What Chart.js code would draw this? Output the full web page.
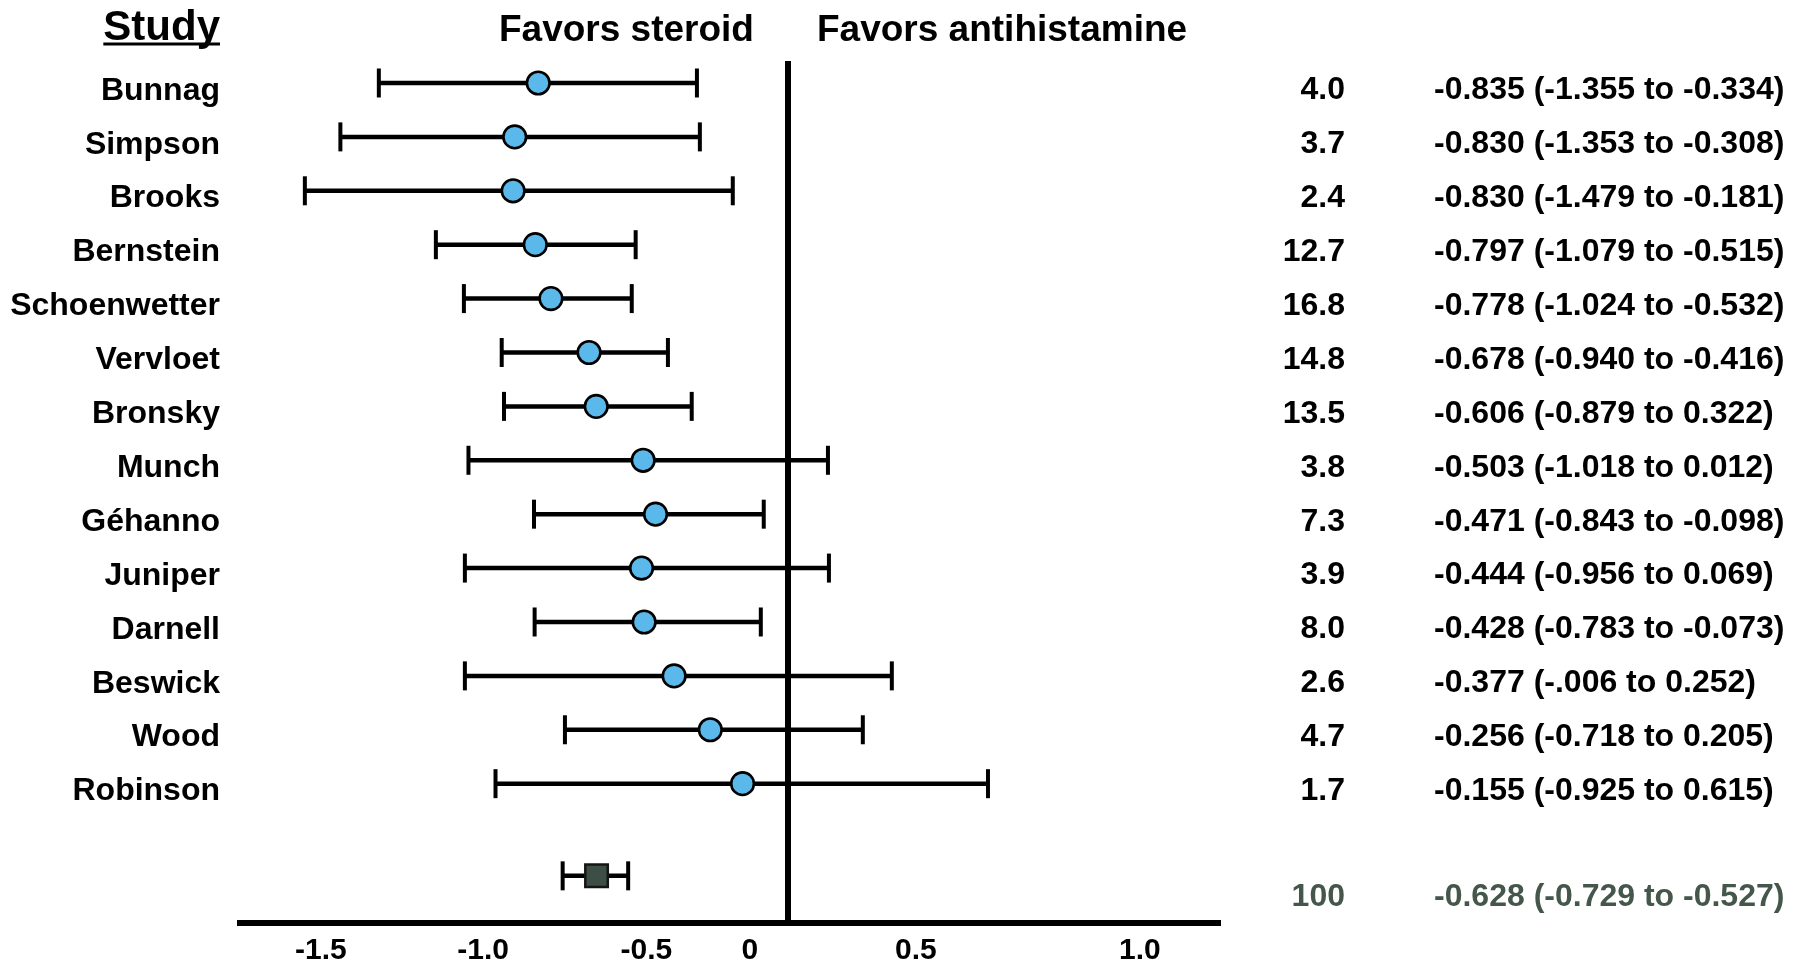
<!DOCTYPE html>
<html>
<head>
<meta charset="utf-8">
<script src="https://cdn.jsdelivr.net/npm/chart.js@4.4.1/dist/chart.umd.min.js"></script>
<style>
  html, body { margin: 0; padding: 0; background: #ffffff; }
  #wrap { width: 1804px; height: 965px; }
</style>
</head>
<body>
<div id="wrap"><canvas id="c" width="1804" height="965"></canvas></div>
<script>
// ---- data ----
const studies = ['Bunnag','Simpson','Brooks','Bernstein','Schoenwetter','Vervloet','Bronsky','Munch','Géhanno','Juniper','Darnell','Beswick','Wood','Robinson'];
const effect = [-0.766,-0.838,-0.843,-0.775,-0.727,-0.610,-0.588,-0.444,-0.406,-0.449,-0.441,-0.349,-0.238,-0.139];
const lower  = [-1.255,-1.373,-1.482,-1.080,-0.994,-0.878,-0.871,-0.980,-0.779,-0.991,-0.777,-0.991,-0.684,-0.897];
const upper  = [-0.279,-0.270,-0.169,-0.467,-0.479,-0.368,-0.295,0.123,-0.074,0.126,-0.083,0.319,0.230,0.614];
const weights = ['4.0','3.7','2.4','12.7','16.8','14.8','13.5','3.8','7.3','3.9','8.0','2.6','4.7','1.7'];
const ciTexts = [
  '-0.835 (-1.355 to -0.334)',
  '-0.830 (-1.353 to -0.308)',
  '-0.830 (-1.479 to -0.181)',
  '-0.797 (-1.079 to -0.515)',
  '-0.778 (-1.024 to -0.532)',
  '-0.678 (-0.940 to -0.416)',
  '-0.606 (-0.879 to 0.322)',
  '-0.503 (-1.018 to 0.012)',
  '-0.471 (-0.843 to -0.098)',
  '-0.444 (-0.956 to 0.069)',
  '-0.428 (-0.783 to -0.073)',
  '-0.377 (-.006 to 0.252)',
  '-0.256 (-0.718 to 0.205)',
  '-0.155 (-0.925 to 0.615)'
];
const summaryEffect = -0.587;
const summaryLower = -0.691;
const summaryUpper = -0.490;
const summaryWeight = '100';
const summaryText = '-0.628 (-0.729 to -0.527)';
const summaryRow = 14.71;
const xTickValues = [-1.433, -0.935, -0.434, -0.117, 0.393, 1.080];
const xTickLabels = ['-1.5', '-1.0', '-0.5', '0', '0.5', '1.0'];
const nullValue = 0;
const headerStudy = 'Study';
const headerLeft = 'Favors steroid';
const headerRight = 'Favors antihistamine';

// ---- styling ----
const FONT = '"Liberation Sans", Arial, Helvetica, sans-serif';
const BLACK = '#000000';
const BLUE = '#5ab8ea';
const SUMMARY = '#44574a';

const rows = studies.map((_, i) => i);

const lineDatasets = rows.map(i => ({
  type: 'scatter',
  data: [{x: lower[i], y: i}, {x: upper[i], y: i}],
  showLine: true,
  borderColor: BLACK,
  borderWidth: 4.5,
  pointRadius: 0,
  order: 3
}));
lineDatasets.push({
  type: 'scatter',
  data: [{x: summaryLower, y: summaryRow}, {x: summaryUpper, y: summaryRow}],
  showLine: true,
  borderColor: BLACK,
  borderWidth: 4.5,
  pointRadius: 0,
  order: 3
});

const capPoints = [];
rows.forEach(i => { capPoints.push({x: lower[i], y: i}); capPoints.push({x: upper[i], y: i}); });
capPoints.push({x: summaryLower, y: summaryRow});
capPoints.push({x: summaryUpper, y: summaryRow});

const datasets = [
  {
    type: 'scatter',
    data: rows.map(i => ({x: effect[i], y: i})),
    pointStyle: 'circle',
    pointRadius: 11.3,
    pointBackgroundColor: BLUE,
    pointBorderColor: BLACK,
    pointBorderWidth: 2.6,
    order: 0
  },
  {
    type: 'scatter',
    data: [{x: summaryEffect, y: summaryRow}],
    pointStyle: 'rect',
    pointRadius: 15.9,
    pointBackgroundColor: '#3d4f45',
    pointBorderColor: '#151515',
    pointBorderWidth: 2.5,
    order: 0
  },
  {
    type: 'scatter',
    data: capPoints,
    pointStyle: 'line',
    pointRotation: 90,
    pointRadius: 14.5,
    pointBorderColor: BLACK,
    pointBorderWidth: 4,
    order: 1
  },
  ...lineDatasets
];

const textPlugin = {
  id: 'forestText',
  afterDraw(chart) {
    const ctx = chart.ctx;
    const ys = chart.scales.y;
    ctx.save();
    ctx.textBaseline = 'middle';
    // headers
    ctx.fillStyle = BLACK;
    ctx.font = 'bold 42px ' + FONT;
    ctx.textAlign = 'right';
    ctx.fillText(headerStudy, 220, 28.5);
    const w = ctx.measureText(headerStudy).width;
    ctx.fillRect(220 - w, 42.5, w, 3);
    ctx.font = 'bold 37px ' + FONT;
    ctx.textAlign = 'left';
    ctx.fillText(headerLeft, 499, 31);
    ctx.fillText(headerRight, 817, 31);
    // right columns
    ctx.font = 'bold 32px ' + FONT;
    rows.forEach(i => {
      const y = ys.getPixelForValue(i) + 7.5;
      ctx.textAlign = 'right';
      ctx.fillText(weights[i], 1345, y);
      ctx.textAlign = 'left';
      ctx.fillText(ciTexts[i], 1434, y);
    });
    ctx.fillStyle = SUMMARY;
    const ys2 = ys.getPixelForValue(summaryRow) + 21;
    ctx.textAlign = 'right';
    ctx.fillText(summaryWeight, 1345, ys2);
    ctx.textAlign = 'left';
    ctx.fillText(summaryText, 1434, ys2);
    ctx.restore();
  }
};

const allXTicks = xTickValues.concat([nullValue]);

new Chart(document.getElementById('c'), {
  data: { datasets },
  options: {
    responsive: false,
    animation: false,
    devicePixelRatio: 1,
    layout: { padding: { left: 0, right: 583, top: 61, bottom: 0 } },
    plugins: { legend: { display: false }, tooltip: { enabled: false } },
    scales: {
      x: {
        type: 'linear',
        position: 'bottom',
        min: -1.681,
        max: 1.329,
        afterBuildTicks(scale) { scale.ticks = allXTicks.map(v => ({ value: v })); },
        afterFit(scale) { scale.height = 42; },
        ticks: {
          autoSkip: false,
          maxRotation: 0,
          padding: 10,
          color: BLACK,
          font: { family: FONT, size: 30, weight: 'bold' },
          callback: (v, idx) => (idx < xTickLabels.length ? xTickLabels[idx] : '')
        },
        grid: {
          display: true,
          drawOnChartArea: true,
          drawTicks: false,
          color: (c) => (c.tick && c.tick.value === nullValue ? BLACK : 'rgba(0,0,0,0)'),
          lineWidth: (c) => (c.tick && c.tick.value === nullValue ? 6 : 0)
        },
        border: { display: true, color: BLACK, width: 6 }
      },
      y: {
        type: 'linear',
        position: 'left',
        reverse: true,
        min: -0.408,
        max: 15.585,
        afterBuildTicks(scale) { scale.ticks = rows.map(i => ({ value: i })); },
        afterFit(scale) { scale.width = 240; },
        ticks: {
          autoSkip: false,
          padding: 20,
          labelOffset: 7.8,
          color: BLACK,
          font: { family: FONT, size: 32, weight: 'bold' },
          callback: (v) => studies[v] !== undefined ? studies[v] : ''
        },
        grid: { display: false, drawTicks: false },
        border: { display: false }
      }
    }
  },
  plugins: [textPlugin]
});
</script>
</body>
</html>
